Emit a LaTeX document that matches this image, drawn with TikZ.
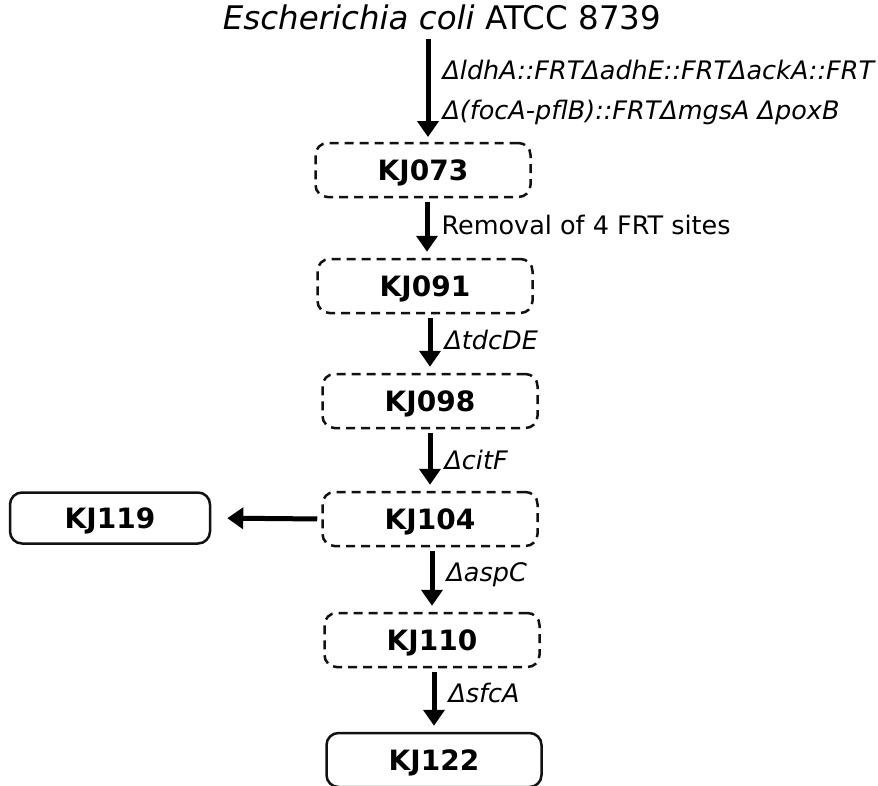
\documentclass[tikz,border=0pt]{standalone}
\usepackage{fontspec}
\setmainfont{DejaVu Sans}
\usepackage{tikz}
\usetikzlibrary{arrows.meta, positioning}
\definecolor{strainblack}{HTML}{111111}

\tikzset{
    strain/.style={draw=strainblack, line width=2.5pt, dash pattern=on 9pt off 6pt, rounded corners=12pt,
        minimum width=215pt, minimum height=54pt, inner sep=0pt,
        font=\fontsize{28}{30}\selectfont\bfseries, text height=20pt, text depth=0pt},
    final/.style={strain, solid},
    flow/.style={-{Triangle[length=16pt, width=21pt]}, line width=5pt, shorten <=4pt, shorten >=6pt},
    gene/.style={right=12pt, inner sep=0pt, font=\fontsize{25.5}{30}\selectfont\itshape, text height=18.5pt, text depth=0pt}
}

\begin{document}
\begin{tikzpicture}[x=1pt, y=-1pt]
    \useasboundingbox (0, 0) rectangle (878, 785);

    % Parent strain
    \node[anchor=base, inner sep=0pt, font=\fontsize{32.5}{38}\selectfont] (ecoli) at (442, 29) {\textit{Escherichia coli} ATCC 8739};

    % Strains along the line
    \node[strain] (KJ073) at (423, 170) {KJ073};
    \node[strain] (KJ091) at (425, 286) {KJ091};
    \node[strain] (KJ098) at (430, 401) {KJ098};
    \node[strain] (KJ104) at (430, 519) {KJ104};
    \node[strain] (KJ110) at (432, 640) {KJ110};
    \node[final] (KJ122) at (434, 760) {KJ122};
    \node[final, minimum width=200pt, minimum height=51pt] (KJ119) at (110, 518) {KJ119};

    % Deletions
    \draw[flow, shorten <=9pt] (ecoli.south -| 428, 0) -- (428, 143)
        node[gene, pos=0.36] (del1) {ΔldhA::FRTΔadhE::FRTΔackA::FRT}
        node[gene, pos=0.71] (del2) {Δ(focA-pflB)::FRTΔmgsA ΔpoxB};
    \draw[flow] (KJ073.south -| 427, 0) -- (KJ091.north -| 427, 0)
        node[gene, pos=0.45, font=\fontsize{25.5}{30}\selectfont] (frt) {Removal of 4 FRT sites};
    \draw[flow] (KJ091.south -| KJ098) -- (KJ098.north)
        node[gene, pos=0.45] (tdc) {ΔtdcDE};
    \draw[flow] (KJ098.south) -- (KJ104.north)
        node[gene, midway] (cit) {ΔcitF};
    \draw[flow] (KJ104.south -| KJ110) -- (KJ110.north)
        node[gene, pos=0.39] (asp) {ΔaspC};
    \draw[flow] (KJ110.south -| KJ122) -- (KJ122.north)
        node[gene, pos=0.4] (sfc) {ΔsfcA};

    % Side branch
    \draw[flow, shorten >=16pt] (KJ104.west) -- (KJ119.east);
\end{tikzpicture}
\end{document}
